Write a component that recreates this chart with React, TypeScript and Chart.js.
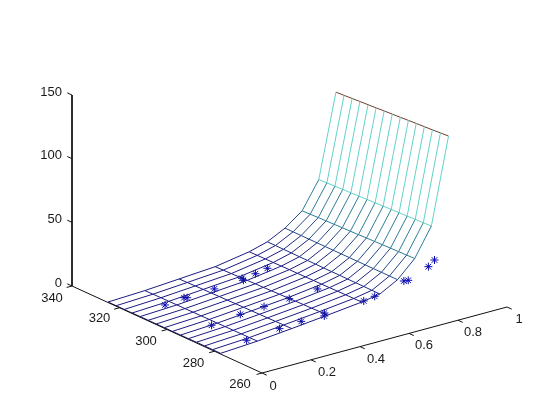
import React, { useEffect, useRef } from "react";
import { Chart, registerables } from "chart.js";

Chart.register(...registerables);

// Mesh grid
const xGrid = [0, 0.15, 0.29, 0.437, 0.576, 0.65, 0.722, 0.792, 0.86, 0.93];
const yGrid = [277.4, 280.8, 284.2, 287.6, 291, 294.3, 297.7, 301.1, 304.5, 307.9, 311.3, 314.7, 318, 321.4, 324.8];
const zRow0 = [0.6, 0.6, 0.6, 0.6, 0.5, 0.5, 0.5, 0.5, 0.5, 0.5, 0.5, 0.4, 0.4, 0.4, 0.4];
const zRow1 = [2.4, 2.3, 2.3, 2.2, 2.2, 2.1, 2.1, 2, 2, 1.9, 1.9, 1.8, 1.8, 1.7, 1.6];
const zRow2 = [5, 4.9, 4.8, 4.7, 4.6, 4.5, 4.4, 4.3, 4.2, 4.1, 4, 3.9, 3.8, 3.6, 3.5];
const zRow3 = [8, 7.8, 7.6, 7.5, 7.3, 7.1, 7, 6.8, 6.6, 6.5, 6.3, 6.1, 5.9, 5.7, 5.5];
const zRow4 = [11, 10.9, 10.9, 10.8, 10.7, 10.6, 10.6, 10.5, 10.4, 10.4, 10.3, 10.2, 10.2, 10.1, 10];
const zRow5 = [13.5, 13.5, 13.6, 13.6, 13.6, 13.7, 13.7, 13.7, 13.8, 13.8, 13.8, 13.9, 13.9, 14, 14];
const zRow6 = [21, 21, 21, 21, 21, 21, 21, 21, 21, 21, 21, 21, 21, 21, 21];
const zRow7 = [34, 33.8, 33.6, 33.4, 33.2, 33, 32.8, 32.5, 32.3, 32.1, 31.9, 31.7, 31.5, 31.2, 31];
const zRow8 = [56, 55.7, 55.4, 55.1, 54.9, 54.6, 54.3, 54, 53.7, 53.4, 53.1, 52.9, 52.6, 52.3, 52];
const zRow9 = [123, 122.6, 122.1, 121.7, 121.3, 120.9, 120.4, 120, 119.6, 119.1, 118.7, 118.3, 117.9, 117.4, 117];
const zRows = [zRow0, zRow1, zRow2, zRow3, zRow4, zRow5, zRow6, zRow7, zRow8, zRow9];
const rowColors = ["#1a1a80", "#1a1a80", "#1a1a80", "#1a1a80", "#1a1a80", "#1c2a80", "#234a86", "#2c7f96", "#62d2c8", "#7a3a28"];

// Star samples
const starX = [0.122, 0.208, 0.216, 0.328, 0.117, 0.245, 0.13, 0.437, 0.43, 0.483, 0.53, 0.335, 0.43, 0.265, 0.355, 0.44, 0.423, 0.514, 0.58, 0.62, 0.738, 0.753, 0.81, 0.863];
const starY = [313.4, 314.3, 313.8, 313.9, 293.3, 294.4, 279.9, 313.5, 312.2, 312.6, 312.4, 293.7, 292.9, 280, 280.1, 279.1, 277.4, 289.7, 277, 276.5, 276.4, 276.1, 273.5, 276.4];
const starZ = [1.5, 2, 2, 3, 3, 4, 2, 6, 6, 8, 10, 6, 8, 4, 5, 8, 8, 14, 12, 14, 20, 20, 30, 30];

// Axis ticks
const xTicks = [0, 0.2, 0.4, 0.6, 0.8, 1];
const yTicks = [260, 280, 300, 320, 340];
const zTicks = [0, 50, 100, 150];

// View projection of the 3-D axes box on to the page
const project = (x: number, y: number, z: number) => ({
  x: 262 + 245 * x - (190 * (y - 260)) / 80,
  y: 373 - 66 * x - (87 * (y - 260)) / 80 - (191 * z) / 150,
});

const lineDs = (data: { x: number; y: number }[], color: string, extra: object = {}) => ({
  type: "scatter" as const,
  data,
  showLine: true,
  borderColor: color,
  borderWidth: 1,
  pointRadius: 0,
  ...extra,
});

const labelFont = '13px "Liberation Sans", Arial, sans-serif';
const xLabelOffset = [
  [11, 13], [16, 12.5], [16, 12.5], [15, 12.5], [15, 12], [12, 12],
];
const yLabelOffset = [
  [-22, 11], [-21, 12], [-21, 11.5], [-20, 11], [-20, 12],
];
const zLabelOffset = [-10, -3];

const tickLabels = {
  id: "tickLabels",
  afterDatasetsDraw(chart: any) {
    const { ctx, scales } = chart;
    const put = (p: { x: number; y: number }, dx: number, dy: number, s: string, align: CanvasTextAlign) => {
      ctx.textAlign = align;
      ctx.fillText(s, scales.x.getPixelForValue(p.x) + dx, scales.y.getPixelForValue(p.y) + dy);
    };
    ctx.save();
    ctx.font = labelFont;
    ctx.fillStyle = "#1a1a1a";
    ctx.textBaseline = "middle";
    xTicks.forEach((t, i) => put(project(t, 260, 0), xLabelOffset[i][0], xLabelOffset[i][1], String(t), "center"));
    yTicks.forEach((t, i) => put(project(0, t, 0), yLabelOffset[i][0], yLabelOffset[i][1], String(t), "center"));
    zTicks.forEach((t) => put(project(0, 340, t), zLabelOffset[0], zLabelOffset[1], String(t), "right"));
    ctx.restore();
  },
};

export default function App() {
  const ref = useRef<HTMLCanvasElement | null>(null);
  useEffect(() => {
    document.body.style.margin = "0";
    document.body.style.background = "#fff";
    const datasets: any[] = [];
    const black = "#111111";
    // axes
    datasets.push(lineDs([project(0, 340, 150), project(0, 340, 0), project(0, 260, 0), project(1, 260, 0)], black));
    xTicks.forEach((t) => datasets.push(lineDs([project(t, 260, 0), project(t, 258, 0)], black)));
    yTicks.forEach((t) => datasets.push(lineDs([project(0, t, 0), project(-0.022, t, 0)], black)));
    zTicks.forEach((t) => datasets.push(lineDs([project(0, 340, t), project(0, 342, t)], black)));
    // constant-y curves, coloured from their lower vertex
    yGrid.forEach((y, j) => {
      const pts = xGrid.map((x, i) => project(x, y, zRows[i][j]));
      datasets.push(
        lineDs(pts, rowColors[0], {
          segment: { borderColor: (c: any) => rowColors[Math.min(c.p0DataIndex, 8)] },
        })
      );
    });
    // constant-x curves
    xGrid.forEach((x, i) => {
      const pts = yGrid.map((y, j) => project(x, y, zRows[i][j]));
      datasets.push(lineDs(pts, rowColors[i]));
    });
    // stars
    datasets.push({
      type: "scatter" as const,
      data: starX.map((x, i) => project(x, starY[i], starZ[i])),
      showLine: false,
      pointStyle: "star",
      pointRadius: 4,
      pointBorderColor: "#0a0ab4",
      pointBackgroundColor: "#0a0ab4",
      pointBorderWidth: 1,
    });
    const chart = new Chart(ref.current as HTMLCanvasElement, {
      type: "scatter",
      data: { datasets },
      plugins: [tickLabels],
      options: {
        animation: false,
        responsive: false,
        layout: { padding: 0, autoPadding: false },
        plugins: { legend: { display: false }, tooltip: { enabled: false } },
        scales: {
          x: { type: "linear", min: 0, max: 560, display: false },
          y: { type: "linear", min: 0, max: 420, reverse: true, display: false },
        },
      },
    });
    return () => chart.destroy();
  }, []);
  return (
    <div style={{ position: "absolute", left: 0, top: 0, width: 560, height: 420 }}>
      <canvas ref={ref} width={560} height={420} style={{ display: "block" }} />
    </div>
  );
}
